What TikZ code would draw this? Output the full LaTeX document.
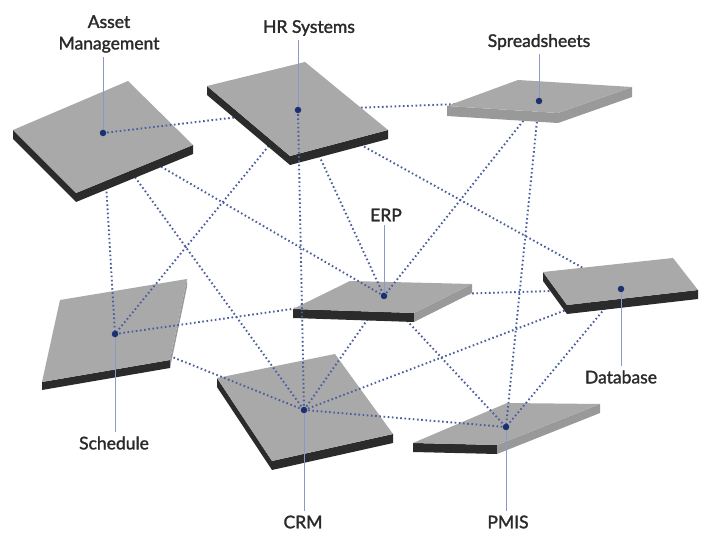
\documentclass[tikz,border=0pt]{standalone}
\usepackage{fontspec}
\setmainfont{Lato}
\newfontfamily\labelfont{Lato}[FakeBold=1.6]
\usetikzlibrary{calc}

\definecolor{slabtop}{HTML}{A9A9A9}
\definecolor{slabdark}{HTML}{2B2B2B}
\definecolor{slablight}{HTML}{999999}
\definecolor{linkblue}{HTML}{4A5E9E}
\definecolor{hubblue}{HTML}{1C2F70}
\definecolor{stemblue}{HTML}{8A9AC4}
\definecolor{labelgray}{HTML}{2A2A2A}

% slab: top face A-B-C-D, thickness, colour of side A-D, colour of side D-C
\newcommand\slab[7]{%
  \fill[#6] (#1) -- (#4) -- ($(#4)+(0,#5)$) -- ($(#1)+(0,#5)$) -- cycle;
  \fill[#7] (#4) -- (#3) -- ($(#3)+(0,#5)$) -- ($(#4)+(0,#5)$) -- cycle;
  \fill[slabtop] (#1) -- (#2) -- (#3) -- (#4) -- cycle;
}

\begin{document}
\begin{tikzpicture}[x=1pt,y=-1pt,
  link/.style={draw=linkblue, line width=1.9pt, dash pattern=on 1.6pt off 2.6pt},
  hub/.style={circle, fill=hubblue, inner sep=0pt, minimum size=6.5pt},
  stem/.style={draw=stemblue, line width=1pt},
  lab/.style={text=labelgray, font=\labelfont\fontsize{17.5}{21.5}\selectfont, align=center, inner sep=4pt}]

\fill[white] (0,0) rectangle (705,534);
\useasboundingbox (0,0) rectangle (705,534);

% system centres
\coordinate (asset) at (103,133);
\coordinate (hr)    at (298,110);
\coordinate (spr)   at (539,101);
\coordinate (erp)   at (384,296);
\coordinate (db)    at (621,289);
\coordinate (sch)   at (115,334);
\coordinate (crm)   at (304,410);
\coordinate (pmis)  at (506,427);

% links lying underneath every slab
\draw[link] (hr) -- (spr);
\draw[link] (hr) -- (db);
\draw[link] (erp) -- (db);

\slab{217,378}{335,354}{393,434}{272,461}{9}{slabdark}{slabdark}   % CRM
\slab{413,443}{507,403}{600,404}{497,445}{9}{slabdark}{slablight}  % PMIS

\draw[link] (sch) -- (crm);
\draw[link] (crm) -- (erp);
\draw[link] (crm) -- (db);
\draw[link] (asset) -- (crm);
\draw[link] (spr) -- (pmis);
\draw[link] (erp) -- (pmis);
\draw[link] (db) -- (pmis);

\slab{42,382}{60,300}{187,279}{170,360}{8}{slabdark}{slablight}    % Schedule

\draw[link] (asset) -- (sch);
\draw[link] (hr) -- (sch);
\draw[link] (sch) -- (erp);

\slab{293,309}{350,281}{472,284}{414,313}{9}{slabdark}{slablight}  % ERP

\draw[link] (asset) -- (erp);
\draw[link] (hr) -- (erp);
\draw[link] (spr) -- (erp);

\slab{543,272}{673,258}{698,290}{567,305}{9}{slabdark}{slabdark}   % Database
\slab{13,130}{128,81}{193,145}{76,193}{9}{slabdark}{slabdark}      % Asset Management

\draw[link] (asset) -- (hr);

\slab{207,86}{305,62}{388,130}{290,156}{9}{slabdark}{slabdark}     % HR Systems
\slab{447,106}{518,80}{632,87}{558,113}{10}{slablight}{slablight}  % Spreadsheets

\draw[link] (hr) -- (crm);
\draw[link] (crm) -- (pmis);

% labels
\node[lab] (assetlab) at (109,34) {Asset\\Management};
\node[lab] (hrlab)    at (309,28) {HR Systems};
\node[lab] (sprlab)   at (539,42) {Spreadsheets};
\node[lab] (erplab)   at (386,215) {ERP};
\node[lab] (dblab)    at (621,377) {Database};
\node[lab] (schlab)   at (114,443) {Schedule};
\node[lab] (crmlab)   at (303,522) {CRM};
\node[lab] (pmislab)  at (508,522) {PMIS};

% stems from labels to centres
\draw[stem] (assetlab.south -| asset) -- (asset);
\draw[stem] (hrlab.south -| hr) -- (hr);
\draw[stem] (sprlab.south -| spr) -- (spr);
\draw[stem] (erplab.south -| erp) -- (erp);
\draw[stem] (dblab.north -| db) -- (db);
\draw[stem] (schlab.north -| sch) -- (sch);
\draw[stem] (crmlab.north -| crm) -- (crm);
\draw[stem] (pmislab.north -| pmis) -- (pmis);

% centre dots
\foreach \c in {asset,hr,spr,erp,db,sch,crm,pmis}
  \node[hub] (\c dot) at (\c) {};
\end{tikzpicture}
\end{document}
